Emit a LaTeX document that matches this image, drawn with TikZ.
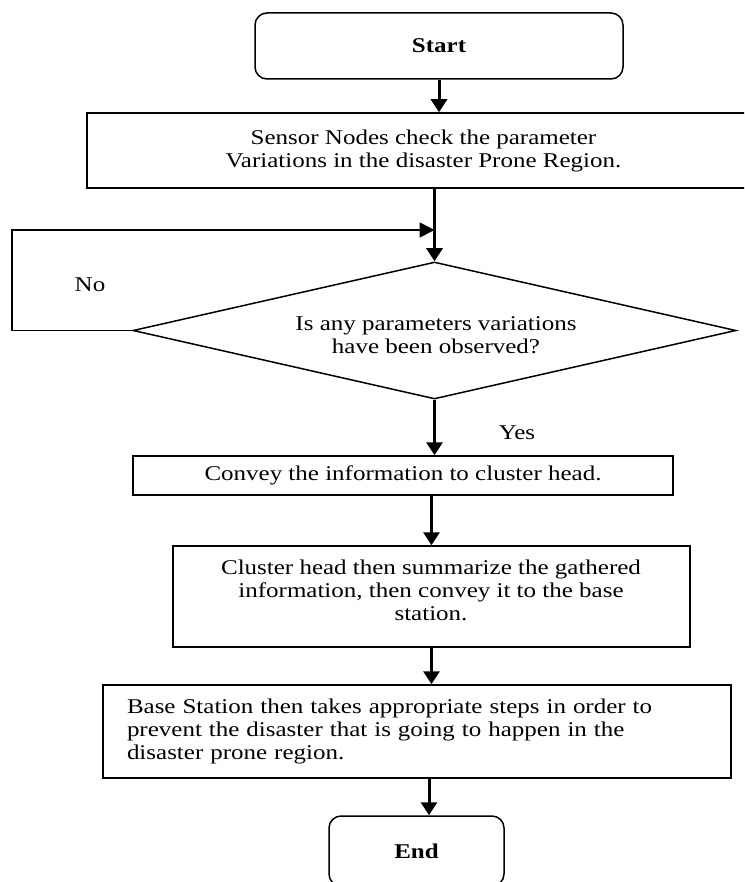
\documentclass[tikz,border=0pt]{standalone}
\usepackage{fontspec}
\setmainfont{Liberation Serif}[FakeStretch=1.19]
\usetikzlibrary{shapes.geometric,arrows.meta}
\begin{document}
\begin{tikzpicture}[x=1pt,y=-1pt,
  every node/.style={font=\fontsize{21}{23}\selectfont},
  box/.style={draw,line width=1.5pt,inner sep=0pt,align=center},
  term/.style={box,rounded corners=12pt,font=\fontsize{21}{23}\selectfont\bfseries},
  arr/.style={line width=3pt,-{Triangle[width=16pt,length=13pt]}},
  loopline/.style={line width=1.8pt,-{Triangle[width=15pt,length=15pt]}}]
\useasboundingbox (0,0) rectangle (744,882);
\fill[white] (0,0) rectangle (744,882);
\clip (0,0) rectangle (744,882);

\node[term,minimum width=368pt,minimum height=66pt] (start) at (439,46) {Start};
\node[box,minimum width=673pt,minimum height=75pt] (sensor) at (423.5,150.5)
  {Sensor Nodes check the parameter\\Variations in the disaster Prone Region.};
\node[diamond,draw,line width=1.5pt,inner sep=0pt,aspect=4.4,
  minimum width=603pt,minimum height=137pt] (dia) at (434.5,330.5) {};
\node[align=center] (diatxt) at (436,335.5)
  {Is any parameters variations\\have been observed?};
\node[box,minimum width=540pt,minimum height=39pt] (convey) at (403,475.5)
  {Convey the information to cluster head.};
\node[box,minimum width=517pt,minimum height=101pt] (cluster) at (431.5,596.5) {};
\node[align=center] (clustertxt) at (431,590.5)
  {Cluster head then summarize the gathered\\information, then convey it to the base\\station.};
\node[box,align=left,text width=580pt,inner xsep=24pt,minimum height=93pt] (base) at (417,731.5)
  {Base Station then takes appropriate steps in order to\\prevent the disaster that is going to happen in the\\disaster prone region.};
\node[term,minimum width=175pt,minimum height=70pt] (stop) at (416.5,851) {End};

\node (yes) at (517,433) {Yes};
\node (no) at (90,285) {No};

\coordinate (join) at (dia.north |- 0,230);
\coordinate (endtip) at ([xshift=12.5pt]stop.north);

\draw[arr] (start.south) -- (start.south |- sensor.north);
\draw[arr] (sensor.south -| dia.north) -- (dia.north);
\draw[loopline] (dia.west) -- (dia.west -| 12,0) |- (join);
\draw[arr] (dia.south) -- (dia.south |- convey.north);
\draw[arr] (convey.south -| cluster.north) -- (cluster.north);
\draw[arr] (cluster.south) -- (cluster.south |- base.north);
\draw[arr] (base.south -| endtip) -- (endtip);
\end{tikzpicture}
\end{document}
